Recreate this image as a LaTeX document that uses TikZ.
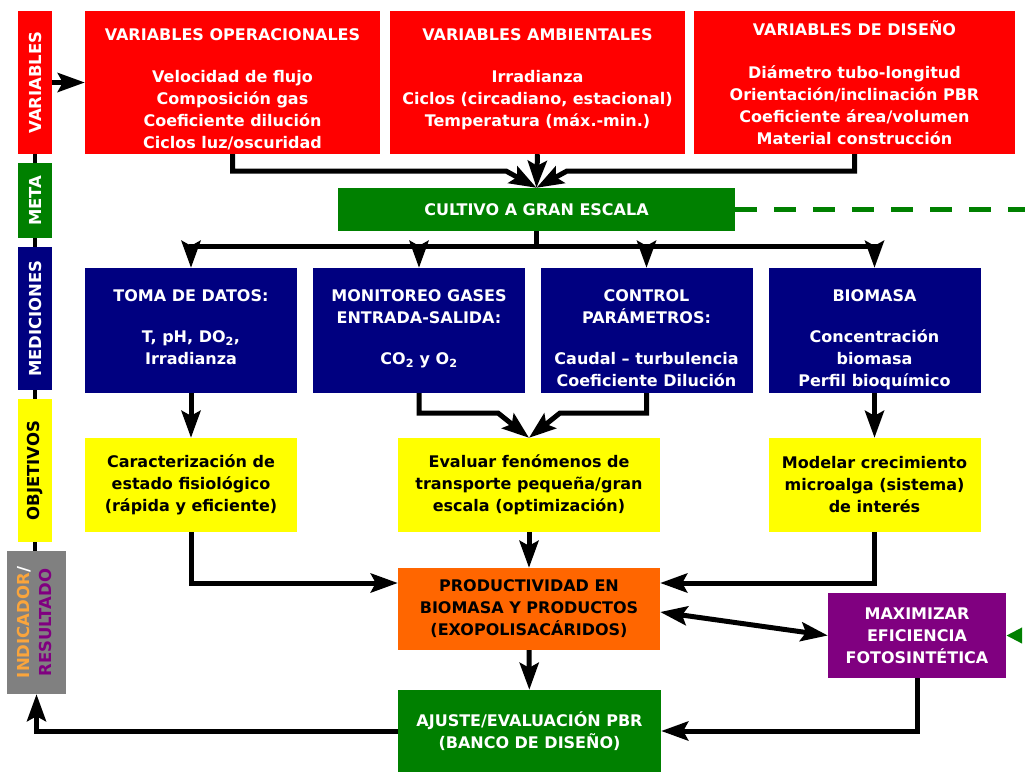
\documentclass[tikz,border=0pt]{standalone}
\usepackage{fontspec}
\setmainfont{DejaVu Sans}
\usepackage{graphicx}
\usetikzlibrary{arrows.meta,positioning}

\definecolor{rojo}{RGB}{255,0,0}
\definecolor{verde}{RGB}{0,128,0}
\definecolor{azul}{RGB}{0,0,128}
\definecolor{amarillo}{RGB}{255,255,0}
\definecolor{naranja}{RGB}{255,102,0}
\definecolor{morado}{RGB}{128,0,128}
\definecolor{gris}{RGB}{128,128,128}
\definecolor{ocre}{RGB}{250,165,60}

\begin{document}
\begin{tikzpicture}[
        x=1pt, y=1pt,
        >={Stealth[length=27pt, width=19pt, inset=5pt]},
        caja/.style={
            rectangle,
            inner sep=0pt,
            align=center,
            font=\bfseries\fontsize{16}{22}\selectfont
        },
        cajaroja/.style={caja, fill=rojo, minimum height=143pt},
        cajaazul/.style={caja, fill=azul, minimum width=212pt, minimum height=125pt},
        cajaamarilla/.style={caja, fill=amarillo, minimum height=94pt},
        texto/.style={
            inner sep=0pt,
            align=center,
            text=white,
            font=\bfseries\fontsize{16}{22}\selectfont
        },
        lateral/.style={caja, font=\bfseries\fontsize{16.5}{22}\selectfont,
            minimum width=34pt, minimum height=143pt},
        enlace/.style={draw, line width=3.5pt},
        flecha/.style={draw, line width=5pt, ->},
        retro/.style={draw=verde, line width=5pt, dash pattern=on 22pt off 17pt,
            -{Triangle[length=16pt, width=15pt]}}
    ]
        \useasboundingbox (0,0) rectangle (1025,-772);

        % -- Barra lateral --
        \node [lateral, fill=rojo, text=white] (var) at (35,-82.5) {\rotatebox{90}{VARIABLES}};
        \node [lateral, fill=verde, text=white, minimum height=75pt] (meta) at (35,-200.5) {\rotatebox{90}{META}};
        \node [lateral, fill=azul, text=white] (medic) at (35,-318.5) {\rotatebox{90}{MEDICIONES}};
        \node [lateral, fill=amarillo] (objet) at (35,-470.5) {\rotatebox{90}{OBJETIVOS}};
        \node [lateral, fill=gris, text=white, minimum width=59pt] (indic) at (36.5,-622.5)
            {\rotatebox{90}{\begin{tabular}{@{}c@{}}\textcolor{ocre}{INDICADOR}/\\\textcolor{morado}{RESULTADO}\end{tabular}}};

        % -- Variables --
        \node [cajaroja, minimum width=295pt] (op) at (232.5,-82.5) {};
        \node [cajaroja, minimum width=295pt] (amb) at (537.5,-82.5) {};
        \node [cajaroja, minimum width=321pt] (dis) at (854.5,-82.5) {};
        \node [texto, below=18pt of op.north] (op-txt)
            {VARIABLES OPERACIONALES\\[20pt] Velocidad de flujo\\ Composición gas\\ Coeficiente dilución\\ Ciclos luz/oscuridad};
        \node [texto, below=18pt of amb.north] (amb-txt)
            {VARIABLES AMBIENTALES\\[20pt] Irradianza\\ Ciclos (circadiano, estacional)\\ Temperatura (máx.-min.)};
        \node [texto, below=10pt of dis.north] (dis-txt)
            {VARIABLES DE DISEÑO\\[21pt] Diámetro tubo-longitud\\ Orientación/inclinación PBR\\ Coeficiente área/volumen\\ Material construcción};

        % -- Meta --
        \node [caja, fill=verde, text=white, minimum width=397pt, minimum height=43pt] (cultivo) at (536.5,-209.5) {CULTIVO A GRAN ESCALA};

        % -- Mediciones --
        \node [cajaazul] (toma) at (191,-330.5) {};
        \node [cajaazul] (moni) at (419,-330.5) {};
        \node [cajaazul] (ctrl) at (646.5,-330.5) {};
        \node [cajaazul] (bio) at (874.5,-330.5) {};
        \node [texto, below=22pt of toma.north] (toma-txt)
            {TOMA DE DATOS:\\[19pt] T, pH, DO\textsubscript{2},\\ Irradianza};
        \node [texto, below=22pt of moni.north] (moni-txt)
            {MONITOREO GASES\\ ENTRADA-SALIDA:\\[19pt] CO\textsubscript{2} y O\textsubscript{2}};
        \node [texto, below=22pt of ctrl.north] (ctrl-txt)
            {CONTROL\\ PARÁMETROS:\\[19pt] Caudal -- turbulencia\\ Coeficiente Dilución};
        \node [texto, below=22pt of bio.north] (bio-txt)
            {BIOMASA\\[19pt] Concentración\\ biomasa\\ Perfil bioquímico};

        % -- Objetivos --
        \node [cajaamarilla, minimum width=212pt] (carac) at (191,-485)
            {Caracterización de\\ estado fisiológico\\ (rápida y eficiente)};
        \node [cajaamarilla, minimum width=262pt] (eval) at (529,-485)
            {Evaluar fenómenos de\\ transporte pequeña/gran\\ escala (optimización)};
        \node [cajaamarilla, minimum width=212pt] (model) at (874.5,-485)
            {Modelar crecimiento\\ microalga (sistema)\\ de interés};

        % -- Indicador / resultado --
        \node [caja, fill=naranja, minimum width=262pt, minimum height=82pt] (prod) at (529,-609)
            {PRODUCTIVIDAD EN\\ BIOMASA Y PRODUCTOS\\ (EXOPOLISACÁRIDOS)};
        \node [caja, fill=morado, text=white, minimum width=178pt, minimum height=85pt] (maxi) at (917,-635.5)
            {MAXIMIZAR\\ EFICIENCIA\\ FOTOSINTÉTICA};
        \node [caja, fill=verde, text=white, minimum width=263pt, minimum height=82pt] (ajuste) at (529.5,-731)
            {AJUSTE/EVALUACIÓN PBR\\ (BANCO DE DISEÑO)};

        % -- Conexiones --
        \path [enlace] (var.south) -- (meta.north) (meta.south) -- (medic.north)
            (medic.south) -- (objet.north) (objet.south) -- (objet.south |- indic.north);
        \path [flecha] (var.east) -- (op.west);

        \path [flecha] (op.south) |- (506,-171) -- (cultivo.north);
        \path [flecha] (amb.south) -- (cultivo.north);
        \path [flecha] (dis.south) |- (567,-171) -- (cultivo.north);

        \coordinate (reparto) at (536.5,-246);
        \path [enlace, line width=5pt] (cultivo.south) -- (reparto);
        \path [flecha] (reparto) -| (toma.north);
        \path [flecha] (reparto) -| (moni.north);
        \path [flecha] (reparto) -| (ctrl.north);
        \path [flecha] (reparto) -| (bio.north);

        \path [flecha] (toma) -- (carac);
        \path [flecha] (moni.south) |- (498,-413) -- (eval.north);
        \path [flecha] (ctrl.south) |- (560,-413) -- (eval.north);
        \path [flecha] (bio) -- (model);

        \path [flecha] (carac.south) |- ([yshift=26pt]prod.west);
        \path [flecha] (eval) -- (prod);
        \path [flecha] (model.south) |- ([yshift=26pt]prod.east);
        \path [flecha, <->] ([yshift=-3pt]prod.east) -- (maxi.west);

        \path [flecha] (prod) -- (ajuste);
        \path [flecha] (maxi.south) |- (ajuste.east);
        \path [flecha] (ajuste.west) -| (indic.south);

        % Retroalimentacion (linea discontinua)
        \path [retro] (cultivo.east) -- (1036,-209.5) -- (1036,-635.5) -- (maxi.east);

    \end{tikzpicture}
\end{document}
